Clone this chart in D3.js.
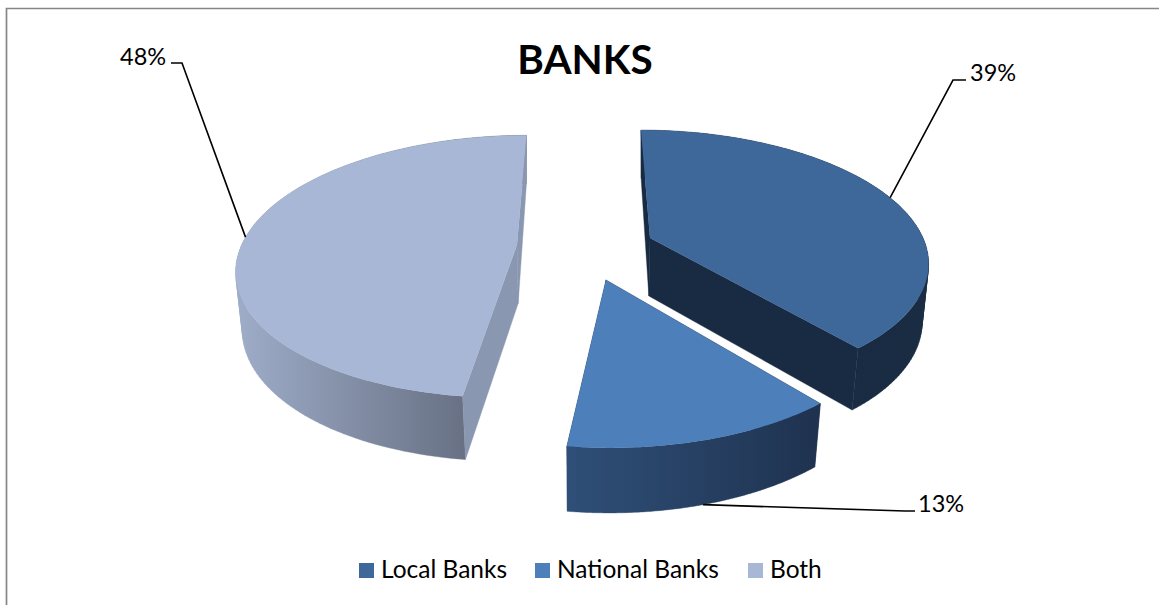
<!DOCTYPE html>
<html>
<head>
<meta charset="utf-8">
<script src="https://cdn.jsdelivr.net/npm/d3@7"></script>
<style>
  html, body { margin: 0; padding: 0; background: #fff; }
  svg { display: block; }
  text { font-family: Lato, "Noto Sans", sans-serif; fill: #000; }
</style>
</head>
<body>
<svg id="chart" width="1159" height="605"></svg>
<script>
// Chart content
const title = "BANKS";
const categories = ["Local Banks", "National Banks", "Both"];
const shares = [39, 13, 48];

// Colours per slice: top face, side walls
const topColors = ["#3e689a", "#4d7fbb", "#a8b7d6"];
const wallStart = ["#182b42", "#2f4f78", "#9dabc7"];
const wallEnd = ["#182b42", "#1f3350", "#687184"];
const cutColors = ["#182b42", "#1f3350", "#8a97b0"];
// National's cut faces point away from the viewer, so they stay behind its outer wall
const cutsInFront = [true, false, true];

// Exploded ground-plane position of each slice apex
const apexX = [650, 604.9, 517.6];
const apexDepth = [0, 85, 15];

// Perspective camera for the tilted pie
const radiusX = 273;
const radiusY = 268;
const vanishX = 585;
const horizonY = -537;
const cameraH = 775;
const perspective = 0.163 / 270;
const thickness = d3.scaleLinear().domain([0.86, 1, 1.27]).range([48, 58, 65]);
const shrink = d3.scaleLinear().domain([0.86, 1, 1.27]).range([1.003, 0.982, 0.975]);

const svg = d3.select("#chart");
const defs = svg.append("defs");

// Project a point of slice i at polar (r, angle); lower picks the underside of the disc
function project(i, r, angle, lower) {
  const wx = apexX[i] + r * radiusX * Math.sin(angle);
  const wy = apexDepth[i] - r * radiusY * Math.cos(angle);
  const s = 1 / (1 - perspective * wy);
  const x = vanishX + (wx - vanishX) * s;
  const y = horizonY + cameraH * s;
  if (!lower) return [x, y];
  return [vanishX + (x - vanishX) * shrink(s), y + thickness(s)];
}

const pieLayout = d3.pie().sort(null).value(d => d);
const arcs = pieLayout(shares);
const path = d3.line();
const rimAngles = a => d3.range(0, 121).map(k => a.startAngle + (a.endAngle - a.startAngle) * k / 120);

// Chart frame: only the top and left edges fall inside the page
svg.append("path")
  .attr("d", "M6.5,605 V8.5 H1159")
  .attr("fill", "none").attr("stroke", "#868686").attr("stroke-width", 1.7);

const drawOrder = [2, 0, 1];
drawOrder.forEach(i => {
  const a = arcs[i];
  const angles = rimAngles(a);
  const upper = angles.map(t => project(i, 1, t, false));
  const lower = angles.map(t => project(i, 1, t, true));
  const apexUp = project(i, 0, 0, false);
  const apexLow = project(i, 0, 0, true);

  const gradId = "wall-" + i;
  const g = defs.append("linearGradient").attr("id", gradId)
    .attr("gradientUnits", "userSpaceOnUse")
    .attr("x1", d3.min(lower, p => p[0])).attr("x2", lower[0][0])
    .attr("y1", 0).attr("y2", 0);
  g.append("stop").attr("offset", 0).attr("stop-color", wallStart[i]);
  g.append("stop").attr("offset", 1).attr("stop-color", wallEnd[i]);

  const drawCuts = () => {
    [[upper[0], lower[0]], [upper[120], lower[120]]].forEach(([u, l]) => {
      svg.append("path")
        .attr("d", path([apexUp, u, l, apexLow]) + "Z")
        .attr("fill", cutColors[i])
        .attr("stroke", cutColors[i]).attr("stroke-width", 0.4);
    });
  };

  if (!cutsInFront[i]) drawCuts();

  // Curved outer wall, built from quads wound the same way so the side silhouette stays filled
  const wallQuads = d3.range(0, 120).map(k => {
    const q = [upper[k], upper[k + 1], lower[k + 1], lower[k]];
    return path(d3.polygonArea(q) < 0 ? q.slice().reverse() : q) + "Z";
  }).join("");
  svg.append("path")
    .attr("d", wallQuads)
    .attr("fill", `url(#${gradId})`)
    .attr("stroke", `url(#${gradId})`).attr("stroke-width", 0.4);

  if (cutsInFront[i]) drawCuts();

  // Top face
  svg.append("path")
    .attr("d", path([apexUp].concat(upper)) + "Z")
    .attr("fill", topColors[i]);
});

// Title
svg.append("text").attr("x", 585).attr("y", 74)
  .attr("text-anchor", "middle")
  .attr("font-size", 40.5).attr("font-weight", 700)
  .text(title);

// Value labels with leader lines, anchored on the mid-angle of each slice
const labelX = [970, 918, 120];
const labelY = [81, 512, 65];
const kneeA = [[953, 80], [905, 511], [182, 63]];
const kneeB = [[966, 80], [915, 511], [171, 63]];
const anchorLower = [false, true, false];

arcs.forEach((a, i) => {
  const mid = (a.startAngle + a.endAngle) / 2;
  const anchor = project(i, 1, mid, anchorLower[i]);
  svg.append("path")
    .attr("d", path([anchor, kneeA[i], kneeB[i]]))
    .attr("fill", "none").attr("stroke", "#000").attr("stroke-width", 1.6);
  svg.append("text").attr("x", labelX[i]).attr("y", labelY[i])
    .attr("font-size", 23.5)
    .text(shares[i] + "%");
});

// Legend
const legendSwatchX = [359, 535, 748];
const legendTextX = [381, 557, 770];
categories.forEach((c, i) => {
  svg.append("rect")
    .attr("x", legendSwatchX[i]).attr("y", 563)
    .attr("width", 15).attr("height", 15)
    .attr("fill", topColors[i]);
  svg.append("text").attr("x", legendTextX[i]).attr("y", 578)
    .attr("font-size", 24.5)
    .text(c);
});
</script>
</body>
</html>
